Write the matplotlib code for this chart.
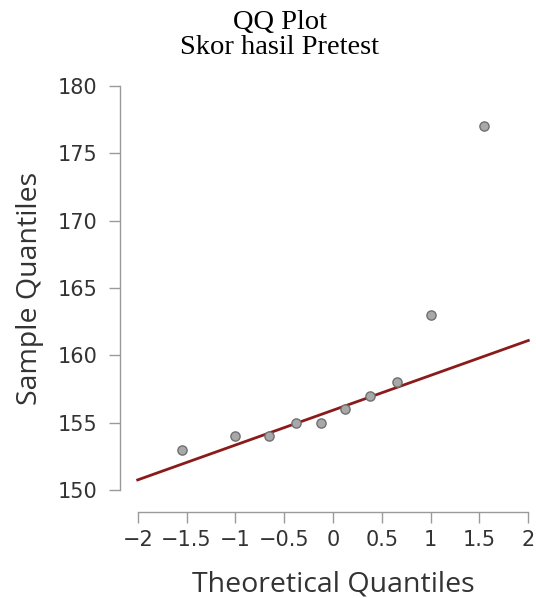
import matplotlib
matplotlib.use("Agg")
import matplotlib.pyplot as plt

# Data
theoretical = [-1.55, -1.00, -0.66, -0.38, -0.12, 0.12, 0.38, 0.66, 1.00, 1.55]
sample = [153, 154, 154, 155, 155, 156, 157, 158, 163, 177]
line_x = [-2.0, 2.0]
line_y = [150.75, 161.1]
x_ticks = [-2, -1.5, -1, -0.5, 0, 0.5, 1, 1.5, 2]
x_labels = ["\u22122", "\u22121.5", "\u22121", "\u22120.5", "0", "0.5", "1", "1.5", "2"]
y_ticks = [150, 155, 160, 165, 170, 175, 180]

W, H = 536, 598
fig = plt.figure(figsize=(W / 100, H / 100), dpi=100)
left, right = 137.7 / W, 528.3 / W
bottom, top = (H - 490) / H, (H - 86) / H
ax = fig.add_axes([left, bottom, right - left, top - bottom])
ax.set_facecolor("none")

ax.plot(line_x, line_y, color="#8b1a1a", lw=2.0, zorder=2, clip_on=False)
ax.scatter(theoretical, sample, s=44, facecolor="#a8a8a8", edgecolor="#707070",
           linewidth=1.0, zorder=3, clip_on=False)

ax.set_xlim(-2, 2)
ax.set_ylim(150, 180)
ax.set_xticks(x_ticks)
ax.set_xticklabels(x_labels)
ax.set_yticks(y_ticks)

for s in ["top", "right"]:
    ax.spines[s].set_visible(False)
ax.spines["left"].set_position(("outward", 13))
ax.spines["bottom"].set_position(("outward", 15.6))
ax.spines["left"].set_bounds(150, 180)
ax.spines["bottom"].set_bounds(-2, 2)
for s in ["left", "bottom"]:
    ax.spines[s].set_color("#9a9a9a")
    ax.spines[s].set_linewidth(1.0)

tick_font = "DejaVu Sans"
label_font = "Open Sans"
ax.tick_params(axis="both", colors="#9a9a9a", length=8, width=1.0, labelcolor="#333333",
               labelsize=15)
ax.tick_params(axis="y", pad=8)
ax.tick_params(axis="x", pad=5)
for lab in ax.get_xticklabels() + ax.get_yticklabels():
    lab.set_fontfamily(tick_font)

ax.set_xlabel("Theoretical Quantiles", fontsize=20.5, family=label_font, color="#333333", labelpad=15)
ax.set_ylabel("Sample Quantiles", fontsize=20.5, family=label_font, color="#333333", labelpad=10)

fig.text(280 / W, 1 - 35 / H, "QQ Plot\nSkor hasil Pretest", ha="center", va="center",
         fontsize=20.5, family="Liberation Serif", color="#000000", linespacing=1.0)

fig.savefig("out.png", dpi=100)
